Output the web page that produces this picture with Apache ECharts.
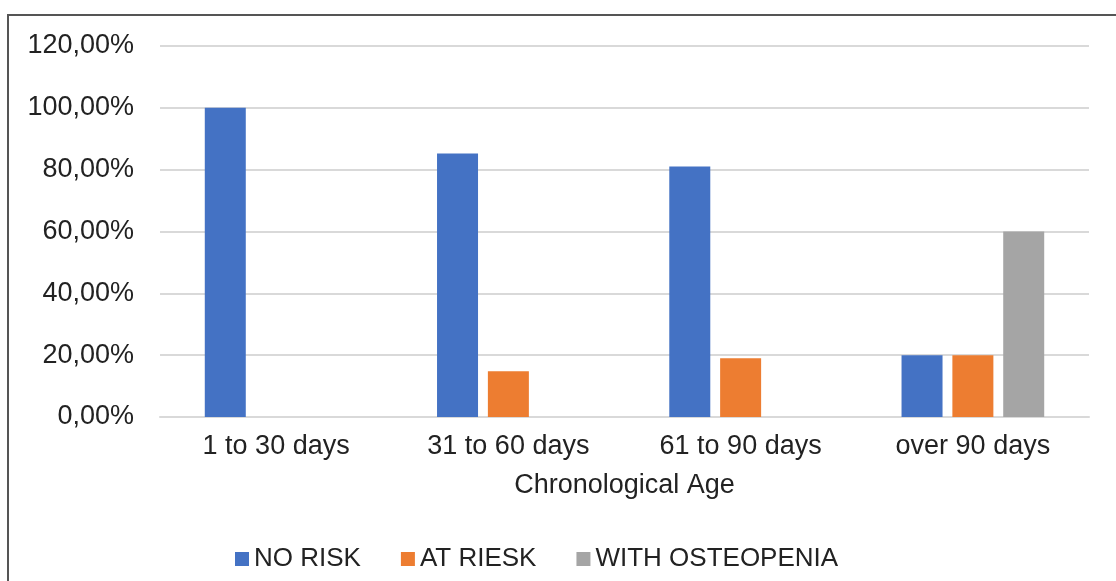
<!DOCTYPE html>
<html>
<head>
<meta charset="utf-8">
<script src="https://cdn.jsdelivr.net/npm/echarts@6/dist/echarts.min.js"></script>
<style>
  html, body { margin: 0; padding: 0; background: #ffffff; }
  #wrap { position: relative; width: 1116px; height: 581px; overflow: hidden; }
  #frame { position: absolute; left: 7px; top: 14px; width: 1200px; height: 700px;
           border-left: 2px solid #555555; border-top: 2px solid #555555; }
  #chart { position: absolute; left: 0; top: 0; width: 1116px; height: 581px; }
</style>
</head>
<body>
<div id="wrap">
  <div id="frame"></div>
  <div id="chart"></div>
</div>
<script>
// Age groups and share (%) of each bone-health class
const categories = ['1 to 30 days', '31 to 60 days', '61 to 90 days', 'over 90 days'];
const seriesNames = ['NO RISK', 'AT RIESK', 'WITH OSTEOPENIA'];
const noRisk = [100, 85.2, 81, 20];
const atRisk = [0, 14.8, 19, 20];
const withOsteopenia = [0, 0, 0, 60];
const yTicks = { min: 0, max: 120, interval: 20 };

const colors = ['#4472C4', '#ED7D31', '#A5A5A5'];
const textColor = '#222222';
const font = 'Liberation Sans, Arial, sans-serif';

const chart = echarts.init(document.getElementById('chart'));
const values = [noRisk, atRisk, withOsteopenia];

chart.setOption({
  animation: false,
  backgroundColor: 'transparent',
  color: colors,
  textStyle: { fontFamily: font, color: textColor },
  grid: { left: 160, right: 27, top: 46, bottom: 164 },
  legend: {
    left: 230,
    top: 541,
    icon: 'rect',
    itemWidth: 14,
    itemHeight: 14,
    itemGap: 40,
    textStyle: { fontSize: 26, color: textColor, fontFamily: font },
    data: seriesNames
  },
  xAxis: {
    type: 'category',
    data: categories,
    name: 'Chronological Age',
    nameLocation: 'middle',
    nameGap: 55,
    nameTextStyle: { fontSize: 27, color: textColor, fontFamily: font },
    axisLine: { lineStyle: { color: '#d9d9d9', width: 2 } },
    axisTick: { show: false },
    axisLabel: { fontSize: 27, color: textColor, margin: 16, fontFamily: font }
  },
  yAxis: {
    type: 'value',
    min: yTicks.min,
    max: yTicks.max,
    interval: yTicks.interval,
    axisLine: { show: false },
    axisTick: { show: false },
    splitLine: { lineStyle: { color: '#d9d9d9', width: 2 } },
    axisLabel: {
      fontSize: 27,
      color: textColor,
      margin: 26,
      fontFamily: font,
      formatter: v => v.toFixed(2).replace('.', ',') + '%'
    }
  },
  series: seriesNames.map((name, i) => ({
    name: name,
    type: 'bar',
    data: values[i],
    barWidth: 41,
    barGap: '24%',
    itemStyle: { color: colors[i] }
  }))
});
</script>
</body>
</html>
